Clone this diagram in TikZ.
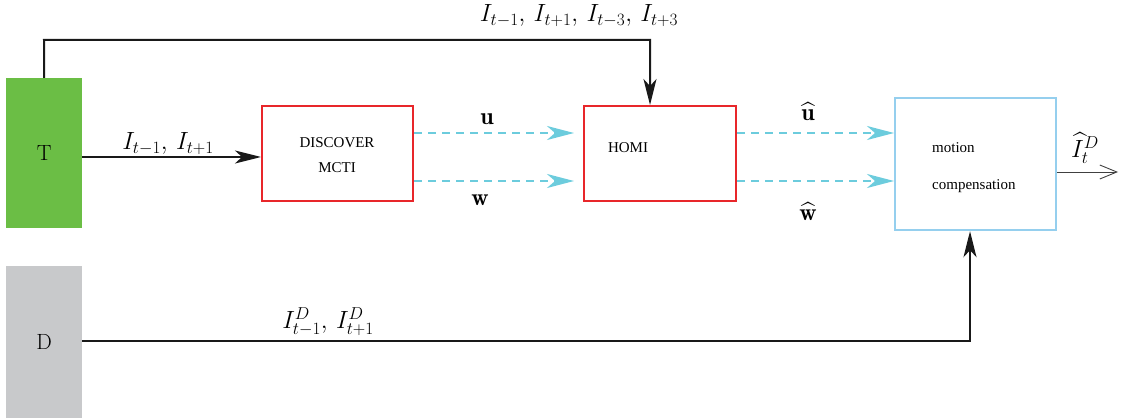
\documentclass[tikz,border=0pt]{standalone}
\usepackage{amsmath}
\usepackage{exscale}
\usepackage{fontspec}
\newfontfamily\boxfont{Liberation Serif}
\usetikzlibrary{arrows.meta}
\definecolor{tgreen}{HTML}{6BBE45}
\definecolor{dgray}{HTML}{C8C9CB}
\definecolor{bred}{HTML}{E8262A}
\definecolor{lblue}{HTML}{95CFEE}
\definecolor{dcyan}{HTML}{6CCCDD}
\begin{document}
\begin{tikzpicture}[x=1pt,y=-1pt,
  src/.style={draw=none,inner sep=0pt,font=\fontsize{22}{26}\selectfont},
  redbox/.style={draw=bred,line width=2.2pt,inner sep=0pt},
  bluebox/.style={draw=lblue,line width=2.2pt,inner sep=0pt},
  btxt/.style={inner sep=0pt,font=\boxfont\fontsize{15}{18}\selectfont},
  blk/.style={line width=2pt,draw=black!90,-{Stealth[length=26pt,width=13pt,inset=7pt]}},
  dsh/.style={line width=2pt,draw=dcyan,dash pattern=on 8pt off 6pt,-{Stealth[length=27pt,width=14pt,inset=8pt,fill=dcyan]}},
  lbl/.style={inner sep=0pt,font=\fontsize{26.5}{30}\selectfont},
  vlbl/.style={inner sep=0pt,font=\fontsize{24}{28}\selectfont},
]
\useasboundingbox (0,0) rectangle (1121,419);
% sources
\node[src,fill=tgreen,minimum width=76pt,minimum height=150pt,anchor=north west] (T) at (6,78) {T};
\node[src,fill=dgray,minimum width=76pt,minimum height=152pt,anchor=north west] (D) at (6,266) {D};
% boxes
\node[redbox,minimum width=151pt,minimum height=95pt,anchor=north west] (disc) at (261,105) {};
\node[redbox,minimum width=152pt,minimum height=95pt,anchor=north west] (homi) at (583,105) {};
\node[bluebox,minimum width=161pt,minimum height=132pt,anchor=north west] (mc) at (894,97) {};
\node[btxt] (t1) at (337,143) {DISCOVER};
\node[btxt] (t2) at (337,168) {MCTI};
\node[btxt] (t3) at (628,148) {HOMI};
\node[btxt,anchor=west] (t4) at (932,148) {motion};
\node[btxt,anchor=west] (t5) at (932,186) {compensation};
% coordinates
\coordinate (tTop) at (44,40);
\coordinate (hTop) at (650,40);
\coordinate (dR) at (970,341);
% top connector
\draw[blk] (T.north) -- (tTop) -- (hTop) -- (650,105);
\node[lbl] (l1) at (579,16) {$I_{t-1},\, I_{t+1},\, I_{t-3},\, I_{t+3}$};
% T to discover
\draw[blk] (82,157) -- (disc.west |- 0,157);
\node[lbl] (l2) at (168,144) {$I_{t-1},\, I_{t+1}$};
% dashed
\draw[dsh] (disc.east |- 0,133) -- (574,133);
\draw[dsh] (disc.east |- 0,181) -- (574,181);
\draw[dsh] (homi.east |- 0,133) -- (mc.west |- 0,133);
\draw[dsh] (homi.east |- 0,181) -- (mc.west |- 0,181);
\node[vlbl] (u) at (487,119) {$\mathbf{u}$};
\node[vlbl] (w) at (480,200) {$\mathbf{w}$};
\node[vlbl] (uh) at (808,112) {$\widehat{\mathbf{u}}$};
\node[vlbl] (wh) at (808,212) {$\widehat{\mathbf{w}}$};
% output
\coordinate (out) at (1118,172);
\draw[line width=0.9pt,draw=black!75,-{Straight Barb[length=17pt,width=14pt,line width=0.9pt]}] (mc.east |- 0,172) -- (out);
\node[inner sep=0pt,font=\fontsize{26}{30}\selectfont] (lo) at (1085,148) {$\widehat{I}_t^{D}$};
% D connector
\draw[blk] (D.east |- 0,341) -- (dR) -- (mc.south -| 970,0);
\node[lbl] (l3) at (328,322) {$I^{D}_{t-1},\, I^{D}_{t+1}$};
\end{tikzpicture}
\end{document}
